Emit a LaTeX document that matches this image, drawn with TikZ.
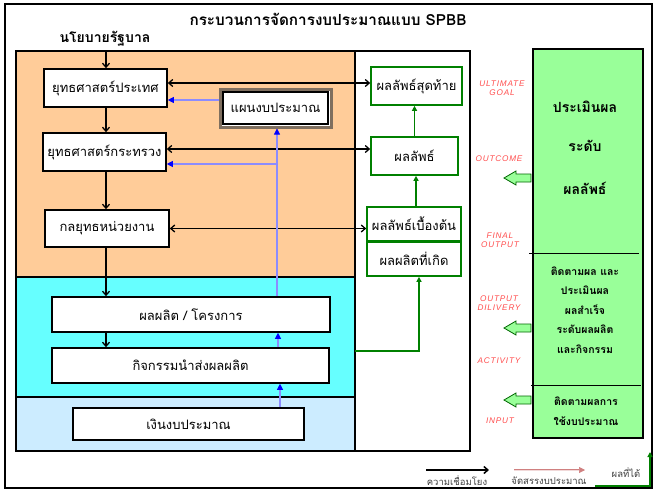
\documentclass[tikz,border=0pt]{standalone}
\usepackage{fontspec}
\setmainfont{Liberation Sans}
\newfontfamily\thai[Script=Thai]{Loma}
\newfontfamily\labfont[LetterSpace=10]{Liberation Sans}
\usetikzlibrary{arrows.meta}
\definecolor{orng}{HTML}{FFCC99}
\definecolor{aqua}{HTML}{66FFFF}
\definecolor{skyb}{HTML}{CCECFF}
\definecolor{lgreen}{HTML}{99FF99}
\definecolor{dgreen}{HTML}{008000}
\definecolor{labred}{HTML}{FF4D4D}
\definecolor{frame}{HTML}{7F6F5F}
\definecolor{pinkln}{HTML}{D08080}
\begin{document}
\begin{tikzpicture}[x=1pt,y=-1pt,font=\thai,
  box/.style={draw=black,line width=1.6pt,fill=white,inner sep=0pt,font=\thai\fontsize{13}{15}\selectfont},
  gbox/.style={draw=dgreen,line width=1.6pt,fill=white,inner sep=0pt,font=\thai\fontsize{13}{15}\selectfont},
  region/.style={draw=black,line width=1.6pt},
  link/.style={line width=1.3pt,-{Straight Barb[length=4pt,width=7pt]}},
  biLink/.style={line width=1.3pt,{Straight Barb[length=4pt,width=7pt]}-{Straight Barb[length=4pt,width=7pt]}},
  blueln/.style={draw=blue,double=white!55!blue,double distance=1.2pt,line width=0.8pt,-{Triangle[length=6pt,width=6pt,fill=blue]}},
  gline/.style={draw=dgreen,line width=1.4pt,-{Triangle[length=5pt,width=5pt]}},
  goal/.style={text=labred,font=\labfont\itshape\fontsize{8.2}{9.5}\selectfont,align=center},
  evtext/.style={font=\thai\bfseries\fontsize{10.5}{19.5}\selectfont,align=center},
  legtext/.style={font=\thai\fontsize{9.5}{11}\selectfont,text=black!75},
  larrow/.pic={\draw[fill=lgreen,draw=black!60!green,line width=0.8pt]
     (0,0) -- (12,-7) -- (12,-4) -- (27,-4) -- (27,4) -- (12,4) -- (12,7) -- cycle;}
]
\useasboundingbox (0,0) rectangle (653,490);
\fill[white] (0,0) rectangle (653,490);
% outer frame
\draw[line width=2pt] (5,4) rectangle (652,488);
\node[font=\thai\bfseries\fontsize{15.3}{17}\selectfont] (title) at (328,19) {กระบวนการจัดการงบประมาณแบบ SPBB};
\node[font=\thai\bfseries\fontsize{14}{16}\selectfont] (policy) at (105,39) {นโยบายรัฐบาล};

% shaded bands and the results panel
\draw[region,fill=orng] (16,51) rectangle (355,277);
\draw[region,fill=aqua] (16,277) rectangle (355,397);
\draw[region,fill=skyb] (16,397) rectangle (355,451);
\draw[line width=1.4pt] (355,51) rectangle (470,451);
\coordinate (orangetop) at (106,51);
\coordinate (gstart) at (355,351);

% strategy chain
\node[box,minimum width=123pt,minimum height=38pt] (ys1) at (105.5,88) {ยุทธศาสตร์ประเทศ};
\node[box,minimum width=123pt,minimum height=38pt] (ys2) at (104.5,152) {ยุทธศาสตร์กระทรวง};
\node[box,minimum width=124pt,minimum height=37pt] (ky) at (107,228.5) {กลยุทธหน่วยงาน};
\node[draw=frame,line width=3pt,fill=white,minimum width=111pt,minimum height=38pt,inner sep=0pt] (plan) at (275.5,108) {};
\node[box,line width=1.4pt,minimum width=105pt,minimum height=32pt] (planin) at (275.5,108) {แผนงบประมาณ};
\node[box,minimum width=278pt,minimum height=35pt] (pp) at (191,314.5) {ผลผลิต / โครงการ};
\node[box,minimum width=277pt,minimum height=35pt] (kk) at (190.5,365.5) {กิจกรรมนำส่งผลผลิต};
\node[box,minimum width=231pt,minimum height=32pt] (ngb) at (188.5,424) {เงินงบประมาณ};

% result chain
\node[gbox,minimum width=91pt,minimum height=38pt] (g1) at (416.5,86) {ผลลัพธ์สุดท้าย};
\node[gbox,minimum width=87pt,minimum height=38pt] (g2) at (414.5,156) {ผลลัพธ์};
\node[gbox,minimum width=94pt,minimum height=34pt] (g3) at (414,224) {ผลลัพธ์เบื้องต้น};
\node[gbox,minimum width=94pt,minimum height=34pt] (g4) at (414,259) {ผลผลิตที่เกิด};

% downward links
\draw[link] (orangetop) -- (orangetop |- ys1.north);
\draw[link] (ys1.south -| orangetop) -- (ys2.north -| orangetop);
\draw[link] (ys2.south -| orangetop) -- (ky.north -| orangetop);
\draw[link] (ky.south -| orangetop) -- (pp.north -| orangetop);
\draw[link] (pp.south -| orangetop) -- (kk.north -| orangetop);

% two-way links to the results
\draw[biLink] ([yshift=5pt]ys1.east) -- ([yshift=5pt]ys1.east -| g1.west);
\draw[biLink] ([yshift=3pt]ys2.east) -- ([yshift=3pt]ys2.east -| g2.west);
\draw[biLink] (ky.east) -- (ky.east -| g3.west);

% budget allocation
\coordinate (bx1) at ([xshift=1.5pt]plan.south);
\coordinate (bx2) at ([xshift=2.5pt]plan.south);
\coordinate (bx3) at ([xshift=4.5pt]plan.south);
\coordinate (ys2b) at ([yshift=-12pt]ys2.east);
\draw[blueln] ([yshift=8pt]plan.west) -- ([yshift=8pt]plan.west -| ys1.east);
\draw[blueln] (pp.north -| bx1) -- (bx1);
\draw[blueln] (ys2b -| bx1) -- (ys2b);
\draw[blueln] (kk.north -| bx2) -- (pp.south -| bx2);
\draw[blueln] (ngb.north -| bx3) -- (kk.south -| bx3);

% results flow
\draw[gline] (gstart) -| ([xshift=5pt]g4.south);
\draw[gline] ([xshift=2pt]g3.north) -- ([xshift=2pt]g3.north |- g2.south);
\draw[gline] (g2.north) -- (g2.north |- g1.south);

% evaluation column
\draw[line width=2.2pt,fill=lgreen] (533,49) rectangle (643,438);
\draw[line width=0.8pt] (529,253) -- (639,253);
\draw[line width=0.8pt] (531,385) -- (641,385);
\node[font=\thai\bfseries\fontsize{14}{16}\selectfont] (ev1) at (585,107) {ประเมินผล};
\node[font=\thai\bfseries\fontsize{14}{16}\selectfont] (ev2) at (585,146) {ระดับ};
\node[font=\thai\bfseries\fontsize{14}{16}\selectfont] (ev3) at (585,188) {ผลลัพธ์};
\node[evtext] (ev4) at (585,310) {ติดตามผล และ\\ประเมินผล\\ผลสำเร็จ\\ระดับผลผลิต\\และกิจกรรม};
\node[evtext] (ev5) at (586,411) {ติดตามผลการ\\ใช้งบประมาณ};

\pic at (504,178) {larrow};
\pic at (504,328) {larrow};
\pic at (504,400) {larrow};

% level labels
\node[goal] (l1) at (502,88) {ULTIMATE\\GOAL};
\node[goal] (l2) at (499,159) {OUTCOME};
\node[goal] (l3) at (500,240) {FINAL\\OUTPUT};
\node[goal] (l4) at (499,303) {OUTPUT\\DILIVERY};
\node[goal] (l5) at (499,361) {ACTIVITY};
\node[goal] (l6) at (500,421) {INPUT};

% legend
\coordinate (la) at (426,470);
\coordinate (lb) at (489,470);
\draw[link,line width=1.5pt] (la) -- (lb);
\node[legtext] (lt1) at (457,481) {ความเชื่อมโยง};
\coordinate (lc) at (514,470);
\coordinate (ld) at (585,470);
\draw[draw=pinkln,double=white!70!pinkln,double distance=1pt,line width=0.6pt,-{Triangle[length=6pt,width=6pt,fill=pinkln]}] (lc) -- (ld);
\node[legtext] (lt2) at (549,481) {จัดสรรงบประมาณ};
\coordinate (le) at (595,486);
\coordinate (lf) at (650,452);
\draw[gline] (le) -| (lf);
\node[legtext] (lt3) at (626,473) {ผลที่ได้};
\end{tikzpicture}
\end{document}
